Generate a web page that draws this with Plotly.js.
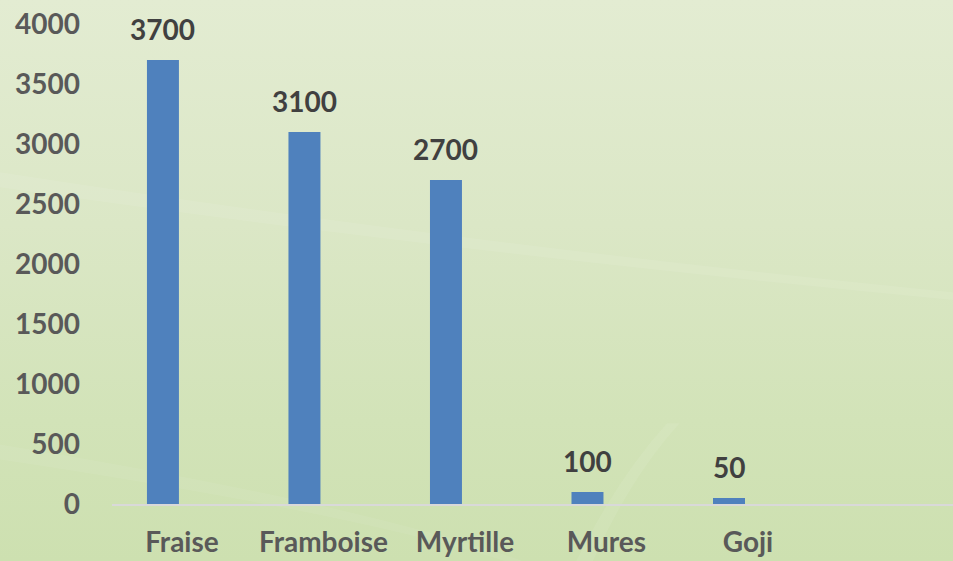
<!DOCTYPE html>
<html>
<head>
<meta charset="utf-8">
<script src="https://cdn.plot.ly/plotly-3.0.1.min.js"></script>
<style>
  html, body { margin: 0; padding: 0; }
  #myDiv {
    width: 953px; height: 561px;
    background: linear-gradient(180deg, #e3ecd2 0%, #dbe7c6 40%, #d2e3b8 75%, #cde0b0 100%);
  }
</style>
</head>
<body>
<div id="myDiv"></div>
<script>
// fruits et valeurs
var fruits = ['Fraise', 'Framboise', 'Myrtille', 'Mures', 'Goji'];
var valeurs = [3700, 3100, 2700, 100, 50];
var yTicks = [0, 500, 1000, 1500, 2000, 2500, 3000, 3500, 4000];

var labelFont = { family: 'Lato, "Open Sans", sans-serif', size: 28, color: '#595959', weight: 'bold' };

var bars = {
    type: 'bar',
    x: fruits,
    y: valeurs,
    width: 0.226,
    marker: { color: '#4f81bd' },
    hoverinfo: 'x+y'
};

// etiquettes au-dessus des barres
var annots = [];
for (i = 0; i < fruits.length; i++) {
    annots.push({
        x: fruits[i],
        y: valeurs[i],
        text: String(valeurs[i]),
        showarrow: false,
        yanchor: 'bottom',
        yshift: 12,
        font: { family: 'Lato, "Open Sans", sans-serif', size: 28, color: '#404040', weight: 'bold' }
    });
}

// reflets clairs du fond
var swooshes = [
    { type: 'path', xref: 'paper', yref: 'paper',
      path: 'M -0.14 0.66 Q 0.4 0.52 1.0 0.42 L 1.0 0.405 Q 0.4 0.50 -0.14 0.63 Z',
      fillcolor: 'rgba(255,255,255,0.08)', line: { width: 0 }, layer: 'below' },
    { type: 'path', xref: 'paper', yref: 'paper',
      path: 'M 0.55 -0.12 Q 0.6 0.05 0.66 0.16 L 0.675 0.16 Q 0.615 0.05 0.57 -0.12 Z',
      fillcolor: 'rgba(255,255,255,0.07)', line: { width: 0 }, layer: 'below' },
    { type: 'path', xref: 'paper', yref: 'paper',
      path: 'M -0.14 0.12 Q 0.3 0.0 0.5 -0.12 L 0.48 -0.12 Q 0.3 -0.02 -0.14 0.09 Z',
      fillcolor: 'rgba(255,255,255,0.06)', line: { width: 0 }, layer: 'below' }
];

var layout = {
    width: 953,
    height: 561,
    margin: { l: 112, r: 0, t: 0, b: 57 },
    paper_bgcolor: 'rgba(0,0,0,0)',
    plot_bgcolor: 'rgba(0,0,0,0)',
    showlegend: false,
    xaxis: {
        type: 'category',
        range: [-0.36, 5.583],
        showgrid: false,
        showline: true,
        linecolor: '#d9d9d9',
        linewidth: 2,
        ticks: '',
        ticklabelshift: 19,
        ticklabelstandoff: 12,
        tickfont: labelFont,
        fixedrange: true
    },
    yaxis: {
        range: [0, 4200],
        tickvals: yTicks,
        showgrid: false,
        zeroline: false,
        showline: false,
        ticks: '',
        ticklabelstandoff: 31,
        tickfont: labelFont,
        fixedrange: true
    },
    annotations: annots,
    shapes: swooshes
};

Plotly.newPlot('myDiv', [bars], layout, { displayModeBar: false, staticPlot: true });
</script>
</body>
</html>
